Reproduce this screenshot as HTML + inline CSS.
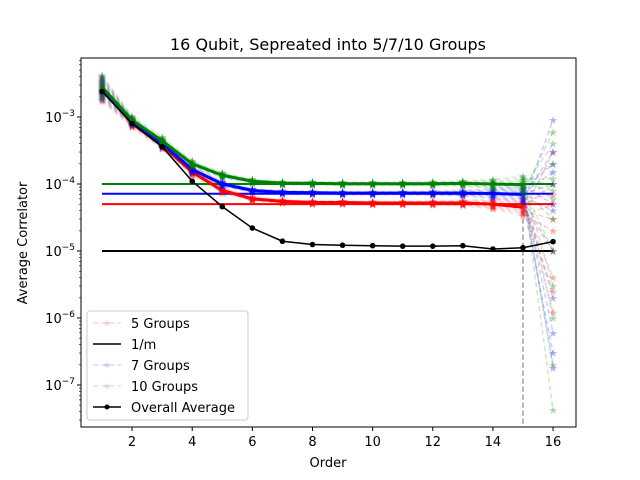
<!DOCTYPE html>
<html><head><meta charset="utf-8"><style>
body{margin:0;background:#fff;}
svg{display:block;font-family:"DejaVu Sans","Liberation Sans",sans-serif;}
</style></head><body>
<svg id="chart" width="640" height="480" xmlns="http://www.w3.org/2000/svg">
<rect width="640" height="480" fill="#fff"/>
<text x="328" y="50" font-size="16" text-anchor="middle">16 Qubit, Sepreated into 5/7/10 Groups</text>
<defs><clipPath id="clip"><rect x="81" y="58" width="495" height="369"/></clipPath></defs>
<g id="plot" clip-path="url(#clip)"></g>
<g id="axes"></g>
<rect x="81" y="58" width="495" height="369" fill="none" stroke="#000" stroke-width="1"/>
<text x="328" y="467" font-size="13" text-anchor="middle">Order</text>
<text transform="translate(27,243) rotate(-90)" font-size="13" text-anchor="middle">Average Correlator</text>
<g>
<rect x="87" y="311" width="161" height="109" rx="3" fill="#fff" fill-opacity="0.8" stroke="#ccc"/>
<line x1="93" y1="323" x2="121" y2="323" stroke="red" stroke-opacity="0.15" stroke-dasharray="5,3" stroke-width="1.5"/>
<text x="107" y="326" font-size="9" fill="red" fill-opacity="0.2" text-anchor="middle">★</text>
<text x="131" y="328" font-size="13">5 Groups</text>
<line x1="93" y1="344" x2="121" y2="344" stroke="#000" stroke-width="1.5"/>
<text x="131" y="349" font-size="13">1/m</text>
<line x1="93" y1="365" x2="121" y2="365" stroke="blue" stroke-opacity="0.15" stroke-dasharray="5,3" stroke-width="1.5"/>
<text x="107" y="368" font-size="9" fill="blue" fill-opacity="0.2" text-anchor="middle">★</text>
<text x="131" y="370" font-size="13">7 Groups</text>
<line x1="93" y1="386" x2="121" y2="386" stroke="green" stroke-opacity="0.15" stroke-dasharray="5,3" stroke-width="1.5"/>
<text x="107" y="389" font-size="9" fill="green" fill-opacity="0.2" text-anchor="middle">★</text>
<text x="131" y="391" font-size="13">10 Groups</text>
<line x1="93" y1="407" x2="121" y2="407" stroke="#000" stroke-width="1.5"/>
<circle cx="107" cy="407" r="2.5" fill="#000"/>
<text x="131" y="412" font-size="13">Overall Average</text>
</g>
</svg>
<script>
const orders=[1,2,3,4,5,6,7,8,9,10,11,12,13,14,15,16];
const overall=[2.4e-3,8e-4,3.6e-4,1.1e-4,4.6e-5,2.2e-5,1.4e-5,1.25e-5,1.22e-5,1.2e-5,1.18e-5,1.18e-5,1.2e-5,1.07e-5,1.12e-5,1.38e-5];
const red5=[2.6e-3,8e-4,3.8e-4,1.5e-4,8e-5,6e-5,5.5e-5,5.3e-5,5.3e-5,5.2e-5,5.2e-5,5.2e-5,5.2e-5,5e-5,4.5e-5];
const blue7=[2.7e-3,8.5e-4,4e-4,1.65e-4,1e-4,8e-5,7.5e-5,7.4e-5,7.3e-5,7.3e-5,7.3e-5,7.3e-5,7.3e-5,7.2e-5,7e-5];
const green10=[2.8e-3,9e-4,4.4e-4,2e-4,1.35e-4,1.1e-4,1.03e-4,1.02e-4,1.01e-4,1.01e-4,1.01e-4,1.01e-4,1.02e-4,1e-4,9.8e-5];
const spread=[0.18,0.06,0.06,0.05,0.04,0.03,0.025,0.025,0.025,0.025,0.025,0.03,0.04,0.07,0.13];
const red16=[5e-5,3e-5,1e-5,4e-6,1.2e-6,3e-4,1e-4,2.5e-6,7e-5,2e-5];
const blue16=[9e-4,3e-4,1e-4,2e-4,5e-5,1e-5,2e-6,6e-7,1.8e-7,3e-7,4e-5,1.5e-4];
const green16=[6e-4,4e-4,2e-4,1e-4,6e-5,3e-5,1e-5,3e-6,1e-6,2e-7,4.2e-8,8e-5,1.2e-4];
const invM=[5e-5,7.14e-5,1e-4,1e-5];
const xTicks=[2,4,6,8,10,12,14,16];
const yTicks=[-7,-6,-5,-4,-3];
const NS='http://www.w3.org/2000/svg';
function X(v){return 102+(v-1)*30.07;}
function Y(v){return 117-(Math.log10(v)+3)*67;}
const plot=document.getElementById('plot'),axes=document.getElementById('axes');
function mk(tag,attrs,parent){const e=document.createElementNS(NS,tag);for(const k in attrs)e.setAttribute(k,attrs[k]);parent.appendChild(e);return e;}
function pts(arr,off){return arr.map((v,i)=>X(orders[i])+','+Y(v*Math.pow(10,(off||0)*spread[i]))).join(' ');}
const groups=[[red5,red16,'red','group-5'],[blue7,blue16,'blue','group-7'],[green10,green16,'green','group-10']];
invM.forEach((v,i)=>{const c=['red','blue','green','#000'][i];
const l=mk('line',{x1:X(1),x2:X(16),y1:Y(v),y2:Y(v),stroke:c,'stroke-width':2},plot);

});
const offs=[-1,-0.8,-0.6,-0.45,-0.3,-0.15,0,0.15,0.3,0.45,0.6,0.8,1];
['red','blue','green'].forEach(c=>{const l=mk('line',{x1:X(15),x2:X(15),y1:Y(4e-5),y2:480,stroke:c,'stroke-opacity':0.2,'stroke-dasharray':'5,3','stroke-width':1.5},plot);

});
groups.forEach(([mean,ends,c,name])=>{
 const g=mk('g',{},plot);
 
 
 offs.forEach(o=>{mk('polyline',{points:pts(mean,o),fill:'none',stroke:c,'stroke-opacity':0.12,'stroke-width':1.5,'stroke-dasharray':'5,3'},g);});
 mk('polyline',{points:pts(mean,0),fill:'none',stroke:c,'stroke-width':3},g);
 mean.forEach((v,i)=>{offs.forEach(o=>{const t=mk('text',{x:X(orders[i]),y:Y(v*Math.pow(10,o*spread[i]))+4,'font-size':11,fill:c,'fill-opacity':0.3,'text-anchor':'middle'},g);t.textContent='★';});});
 ends.forEach((e,j)=>{const s=mean[14]*Math.pow(10,offs[(j*3)%offs.length]*spread[14]);
  mk('line',{x1:X(15),y1:Y(s),x2:X(16),y2:Y(e),stroke:c,'stroke-opacity':0.2,'stroke-width':1.5,'stroke-dasharray':'5,3'},g);
  const t=mk('text',{x:X(16),y:Y(e)+4,'font-size':11,fill:c,'fill-opacity':0.3,'text-anchor':'middle'},g);t.textContent='★';});
});
const ov=mk('polyline',{points:overall.map((v,i)=>X(orders[i])+','+Y(v)).join(' '),fill:'none',stroke:'#000','stroke-width':1.5},plot);


overall.forEach((v,i)=>{const c=mk('circle',{cx:X(orders[i]),cy:Y(v),r:2.8,fill:'#000'},plot);

});
xTicks.forEach(t=>{mk('line',{x1:X(t),x2:X(t),y1:427,y2:431,stroke:'#000'},axes);
const tx=mk('text',{x:X(t),y:446,'font-size':13,'text-anchor':'middle'},axes);tx.textContent=t;

});
yTicks.forEach(p=>{const y=Y(Math.pow(10,p));mk('line',{x1:77,x2:81,y1:y,y2:y,stroke:'#000'},axes);
const tx=mk('text',{x:75,y:y+5,'font-size':13,'text-anchor':'end'},axes);


tx.innerHTML='10<tspan dy="-6" font-size="9">−'+(-p)+'</tspan>';
for(let k=2;k<10;k++){const yy=Y(k*Math.pow(10,p));if(yy>58&&yy<427)mk('line',{x1:79,x2:81,y1:yy,y2:yy,stroke:'#000','stroke-width':0.6},axes);}});
for(let k=2;k<10;k++){const yy=Y(k*1e-8);if(yy<427)mk('line',{x1:79,x2:81,y1:yy,y2:yy,stroke:'#000','stroke-width':0.6},axes);}
</script>
</body></html>
